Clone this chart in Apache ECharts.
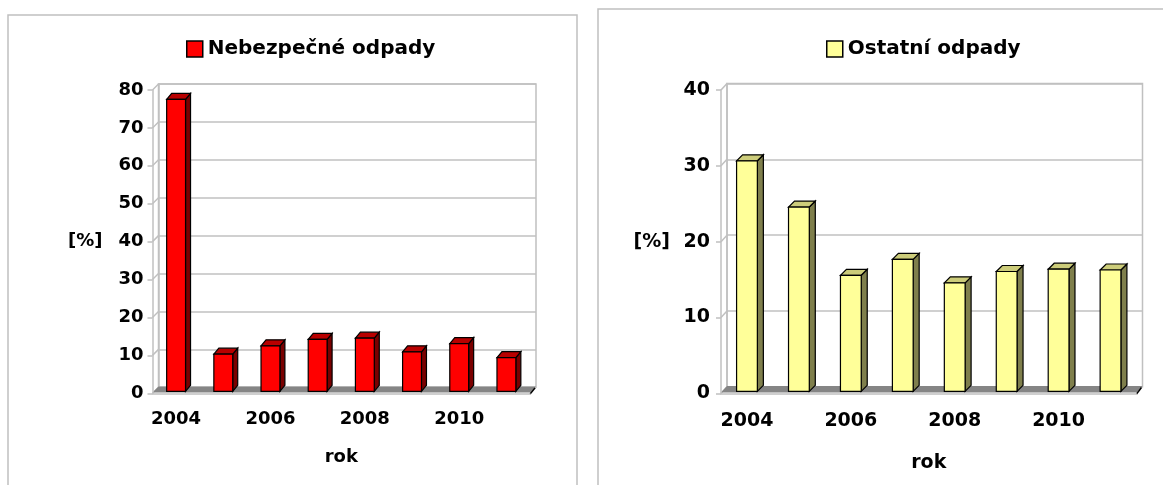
<!DOCTYPE html>
<html>
<head>
<meta charset="utf-8">
<script src="https://cdn.jsdelivr.net/npm/echarts@6/dist/echarts.min.js"></script>
<style>
html, body { margin: 0; padding: 0; background: #fff; }
#chart { width: 1163px; height: 485px; }
</style>
</head>
<body>
<div id="chart"></div>
<script>
const years = ['2004', '2005', '2006', '2007', '2008', '2009', '2010', '2011'];
const hazardous = [77.0, 9.8, 12.0, 13.7, 14.0, 10.4, 12.6, 8.9];
const other = [30.4, 24.3, 15.3, 17.4, 14.3, 15.8, 16.1, 16.0];
const hazardousTicks = [0, 10, 20, 30, 40, 50, 60, 70, 80];
const otherTicks = [0, 10, 20, 30, 40];

const font = 'DejaVu Sans';
const wallColor = '#c0c0c0';

// kreslí 3D sloupec: přední stěna, vršek, bok
function bar3d(colors, depth) {
  return function (params, api) {
    const i = api.value(0);
    const v = api.value(1);
    const base = api.coord([i, 0]);
    const top = api.coord([i, v]);
    const bw = api.size([1, 0])[0] * 0.4;
    const xl = base[0] - bw / 2, xr = base[0] + bw / 2;
    const yb = base[1] - 2, yt = top[1] - 2;
    const dx = depth[0], dy = depth[1];
    const edge = { stroke: '#000', lineWidth: 1.2 };
    return {
      type: 'group',
      children: [
        { type: 'polygon', shape: { points: [[xr, yt], [xr, yb], [xr + dx, yb + dy], [xr + dx, yt + dy]] },
          style: Object.assign({ fill: colors.side }, edge) },
        { type: 'polygon', shape: { points: [[xl, yt], [xr, yt], [xr + dx, yt + dy], [xl + dx, yt + dy]] },
          style: Object.assign({ fill: colors.top }, edge) },
        { type: 'rect', shape: { x: xl, y: yt, width: bw, height: yb - yt },
          style: Object.assign({ fill: colors.front }, edge) }
      ]
    };
  };
}

// šikmé čáry boční stěny
function sideWall(depth) {
  return function (params, api) {
    const p = api.coord([0, api.value(1)]);
    const x0 = p[0] - api.size([1, 0])[0] / 2;
    return {
      type: 'line',
      shape: { x1: x0, y1: p[1], x2: x0 + depth[0], y2: p[1] + depth[1] },
      style: { stroke: wallColor, lineWidth: 1.5 }
    };
  };
}

// podlaha
function floor(depth) {
  return function (params, api) {
    const bw = api.size([1, 0])[0];
    const p0 = api.coord([0, 0]);
    const p1 = api.coord([years.length - 1, 0]);
    const x0 = p0[0] - bw / 2, x1 = p1[0] + bw / 2, y0 = p0[1] - 0.8;
    const dx = depth[0], dy = depth[1];
    return {
      type: 'group',
      children: [
        { type: 'polygon', shape: { points: [[x0, y0], [x1, y0], [x1 + dx, y0 + dy], [x0 + dx, y0 + dy]] },
          style: { fill: '#858585' } },
        { type: 'line', shape: { x1: x1, y1: y0 + 1.5, x2: x1 + dx - 1, y2: y0 + dy + 1.5 },
          style: { stroke: '#000', lineWidth: 1.5 } }
      ]
    };
  };
}

const labelStyle = (size) => ({ color: '#000', fontFamily: font, fontWeight: 'bold', fontSize: size });

function backAxes(gridIndex, max) {
  return {
    x: { type: 'category', gridIndex, data: years, show: false },
    y: {
      type: 'value', gridIndex, min: 0, max, interval: 10,
      axisLine: { show: true, lineStyle: { color: wallColor, width: 1.5 } },
      axisTick: { show: false }, axisLabel: { show: false },
      splitLine: { show: true, lineStyle: { color: wallColor, width: 1.5 } }
    }
  };
}

function frontAxes(gridIndex, max, size, labelMargin, nameGapY, nameGapX) {
  return {
    x: {
      type: 'category', gridIndex, data: years, z: 10,
      name: 'rok', nameLocation: 'middle', nameGap: nameGapX, nameTextStyle: labelStyle(size),
      axisLine: { lineStyle: { color: wallColor, width: 1.5 } },
      axisTick: { interval: 0, length: 5, lineStyle: { color: wallColor, width: 1.5 } },
      axisLabel: Object.assign({ interval: 1, margin: size - 1 }, labelStyle(size)),
      splitLine: { show: false }
    },
    y: {
      type: 'value', gridIndex, min: 0, max, interval: 10, z: 10,
      name: '[%]', nameLocation: 'middle', nameRotate: 0, nameGap: nameGapY, nameTextStyle: labelStyle(size),
      axisLine: { show: true, lineStyle: { color: wallColor, width: 1.5 } },
      axisTick: { show: true, length: 5, lineStyle: { color: wallColor, width: 1.5 } },
      axisLabel: Object.assign({ margin: labelMargin }, labelStyle(size)),
      splitLine: { show: false }
    }
  };
}

const lb = backAxes(0, 80);
const lf = frontAxes(1, 80, 18, 9, 50, 55);
const rb = backAxes(2, 40);
const rf = frontAxes(3, 40, 19, 11, 51, 60);

const leftDepth = [6, -6];
const rightDepth = [6, -6.5];

const legendBase = {
  icon: 'rect', itemWidth: 16, itemHeight: 16, padding: 0, top: 39,
  selectedMode: false, itemStyle: { borderColor: '#000', borderWidth: 1.5 }, textStyle: labelStyle(20)
};

const chart = echarts.init(document.getElementById('chart'));
chart.setOption({
  backgroundColor: '#fff',
  animation: false,
  graphic: [
    { type: 'rect', silent: true, shape: { x: 8, y: 15, width: 569, height: 520 },
      style: { fill: 'none', stroke: wallColor, lineWidth: 1.5 } },
    { type: 'rect', silent: true, shape: { x: 598, y: 9, width: 620, height: 520 },
      style: { fill: 'none', stroke: wallColor, lineWidth: 1.5 } }
  ],
  legend: [
    Object.assign({ data: ['Nebezpečné odpady'], left: 186 }, legendBase),
    Object.assign({ data: ['Ostatní odpady'], left: 826 }, legendBase)
  ],
  grid: [
    { left: 158.5, top: 84, width: 377.5, height: 303.3, show: true, borderColor: wallColor, borderWidth: 1.5, outerBoundsMode: 'none' },
    { left: 152.5, top: 90, width: 377.5, height: 303.3, outerBoundsMode: 'none' },
    { left: 727, top: 83.5, width: 415.5, height: 303.3, show: true, borderColor: wallColor, borderWidth: 1.5, outerBoundsMode: 'none' },
    { left: 721, top: 90, width: 415.5, height: 303.3, outerBoundsMode: 'none' }
  ],
  xAxis: [lb.x, lf.x, rb.x, rf.x],
  yAxis: [lb.y, lf.y, rb.y, rf.y],
  series: [
    { type: 'custom', xAxisIndex: 1, yAxisIndex: 1, z: 1, silent: true,
      data: hazardousTicks.map((t) => [years[0], t]), renderItem: sideWall(leftDepth) },
    { type: 'custom', xAxisIndex: 1, yAxisIndex: 1, z: 2, silent: true,
      data: [[years[0], 0]], renderItem: floor(leftDepth) },
    { type: 'custom', name: 'Nebezpečné odpady', xAxisIndex: 1, yAxisIndex: 1, z: 3,
      itemStyle: { color: '#ff0000' },
      data: years.map((y, i) => [y, hazardous[i]]),
      renderItem: bar3d({ front: '#ff0000', top: '#b80000', side: '#7a0000' }, [5, -6]) },
    { type: 'custom', xAxisIndex: 3, yAxisIndex: 3, z: 1, silent: true,
      data: otherTicks.map((t) => [years[0], t]), renderItem: sideWall(rightDepth) },
    { type: 'custom', xAxisIndex: 3, yAxisIndex: 3, z: 2, silent: true,
      data: [[years[0], 0]], renderItem: floor(rightDepth) },
    { type: 'custom', name: 'Ostatní odpady', xAxisIndex: 3, yAxisIndex: 3, z: 3,
      itemStyle: { color: '#ffff99' },
      data: years.map((y, i) => [y, other[i]]),
      renderItem: bar3d({ front: '#ffff99', top: '#cccc7a', side: '#7f7f4c' }, [6, -6]) }
  ]
});
</script>
</body>
</html>
